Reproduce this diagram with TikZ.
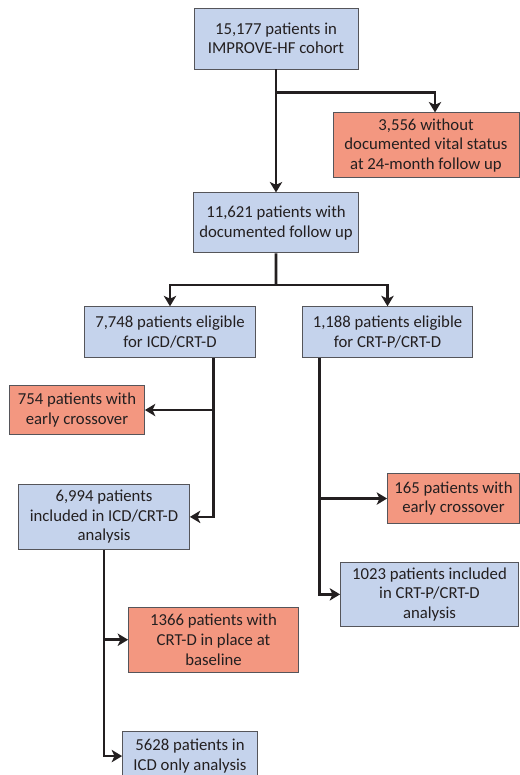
\documentclass[tikz,border=0pt]{standalone}
\usepackage{fontspec}
\setmainfont{Carlito}
\usepackage{xcolor}
\usetikzlibrary{arrows.meta,positioning,calc}
\definecolor{ivBlue}{RGB}{197,211,236}
\definecolor{ivSalmon}{RGB}{243,151,128}
\definecolor{ivBorder}{RGB}{85,85,90}
\definecolor{ivText}{RGB}{35,31,32}
\colorlet{lightblue}{ivBlue}
\colorlet{salmon}{ivSalmon}

\begin{document}
\begin{tikzpicture}[>={Stealth[length=2.6mm,width=3.1mm,inset=0.7mm]},node distance=1.0cm,
  box/.style={draw=ivBorder,line width=0.6pt,text=ivText,align=center,font=\fontsize{11.9}{13.9}\selectfont},
  bluebox/.style={box,fill=lightblue},
  redbox/.style={box,fill=salmon},
  arrowline/.style={->,line width=1.9pt,draw=ivText}]
\useasboundingbox (0,0) rectangle (13,-19.375);
\node[bluebox,minimum width=4.1cm,minimum height=1.525cm] (cohort) at (6.9,-0.9625) {15,177 patients in\\IMPROVE-HF cohort};
\node[redbox,minimum width=4.65cm,minimum height=1.625cm,below=1.075cm of cohort,xshift=3.75cm] (lost) {3,556 without\\documented vital status\\at 24-month follow up};
\node[bluebox,minimum width=4.125cm,minimum height=1.5cm,below=3.075cm of cohort] (fu) {11,621 patients with\\documented follow up};
\node[bluebox,minimum width=4.275cm,minimum height=1.275cm,below=1.325cm of fu,xshift=-2.65cm] (icd) {7,748 patients eligible\\for ICD/CRT-D};
\node[bluebox,minimum width=4.25cm,minimum height=1.275cm,below=1.325cm of fu,xshift=2.7875cm] (crt) {1,188 patients eligible\\for CRT-P/CRT-D};
\node[redbox,minimum width=3.375cm,minimum height=1.225cm,below=0.675cm of icd,xshift=-2.325cm] (xicd) {754 patients with\\early crossover};
\node[bluebox,minimum width=4.275cm,minimum height=1.625cm,below=1.225cm of xicd,xshift=0.675cm] (icdin) {6,994 patients\\included in ICD/CRT-D\\analysis};
\node[redbox,minimum width=3.3cm,minimum height=1.25cm,below=2.875cm of crt,xshift=1.65cm] (xcrt) {165 patients with\\early crossover};
\node[bluebox,minimum width=4.45cm,minimum height=1.6cm,below=0.95cm of xcrt,xshift=-0.6cm] (crtin) {1023 patients included\\in CRT-P/CRT-D\\analysis};
\node[redbox,minimum width=4.25cm,minimum height=1.625cm,below=1.425cm of icdin,xshift=2.7375cm] (base) {1366 patients with\\CRT-D in place at\\baseline};
\node[bluebox,minimum width=3.375cm,minimum height=1.25cm,below=1.45cm of base,xshift=-0.5875cm] (icdonly) {5628 patients in\\ICD only analysis};
% top split
\coordinate (split1) at ($(cohort.south)!0.187!(fu.north)$);
\draw[arrowline] (cohort) -- (fu);
\draw[arrowline] (split1) -| ([xshift=0.225cm]lost.north);
% two cohorts
\coordinate (split2) at ($(fu.south)!0.6!(fu.south |- icd.north)$);
\draw[line width=1.9pt,draw=ivText] (fu.south) -- (split2);
\draw[arrowline] (split2) -| (icd.north);
\draw[arrowline] (split2) -| (crt.north);
% ICD/CRT-D branch
\draw[arrowline] ([xshift=1.0875cm]icd.south) |- (xicd.east);
\draw[arrowline] ([xshift=1.0875cm]icd.south) |- (icdin.east);
% CRT-P/CRT-D branch
\draw[arrowline] ([xshift=-1.7cm]crt.south) |- (xcrt.west);
\draw[arrowline] ([xshift=-1.7cm]crt.south) |- (crtin.west);
% ICD only
\draw[arrowline] (icdin.south) |- (base.west);
\draw[arrowline] (icdin.south) |- (icdonly.west);
\end{tikzpicture}
\end{document}
